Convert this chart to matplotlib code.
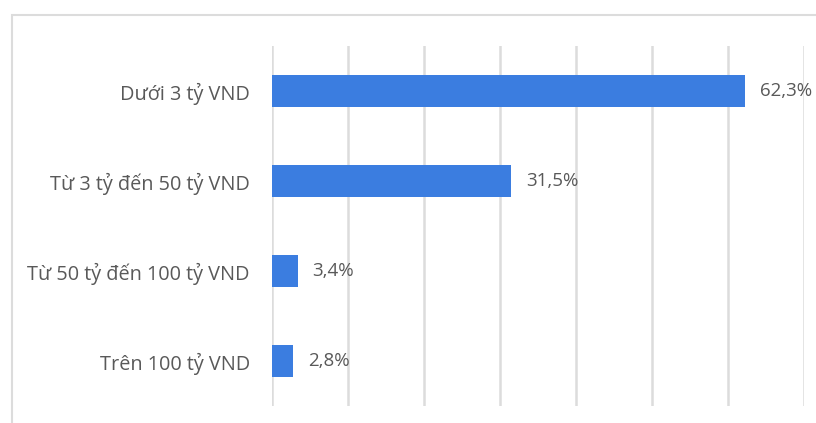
import matplotlib.pyplot as plt
from matplotlib.patches import Rectangle

categories = ['Dưới 3 tỷ VND', 'Từ 3 tỷ đến 50 tỷ VND', 'Từ 50 tỷ đến 100 tỷ VND', 'Trên 100 tỷ VND']
values = [62.3, 31.5, 3.4, 2.8]
value_labels = ['62,3%', '31,5%', '3,4%', '2,8%']

bar_color = '#3b7de0'
text_color = '#595959'
grid_color = '#dcdcdc'

plt.rcParams['font.family'] = ['Open Sans', 'DejaVu Sans']

fig = plt.figure(figsize=(8.16, 4.23), dpi=100)
W, H = 816, 423

# chart frame (cropped at right and bottom in reference)
fig.patches.append(Rectangle((12 / W, -0.1), 1.2, (H - 15) / H + 0.1, transform=fig.transFigure,
                             fill=False, edgecolor=grid_color, linewidth=1.5))

ax = fig.add_axes([272 / W, 17 / H, (804 - 272) / W, 360 / H])
y = list(range(len(categories)))
ax.barh(y, values, height=0.35, color=bar_color, zorder=3)

for yi, v, lab in zip(y, values, value_labels):
    ax.text(v + 1.9, yi, lab, va='center', ha='left', fontsize=13.5, color=text_color)

ax.set_yticks(y)
ax.set_yticklabels(categories, fontsize=14.3, color=text_color)
ax.set_ylim(len(categories) - 0.5, -0.5)
ax.set_xlim(0, 70)
ax.set_xticks(range(0, 71, 10))
ax.set_xticklabels([])
ax.tick_params(axis='both', length=0)
ax.tick_params(axis='y', pad=16)
ax.grid(axis='x', color=grid_color, linewidth=1.8, zorder=0)
ax.set_axisbelow(True)
for s in ax.spines.values():
    s.set_visible(False)

fig.savefig('out.png', dpi=100)
